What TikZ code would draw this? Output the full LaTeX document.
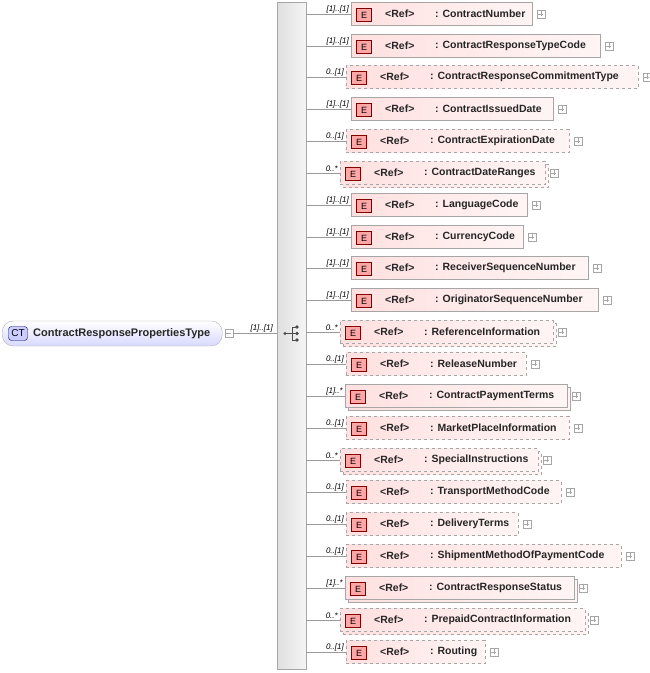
\documentclass[tikz,border=0pt]{standalone}
\usepackage{fontspec}
\setmainfont{Liberation Sans}
\begin{document}
\begin{tikzpicture}[x=1pt,y=-1pt,
  elbox/.style={draw=gray!70,left color=red!12,right color=red!4,minimum height=23pt,inner sep=0pt,anchor=west},
  optbox/.style={elbox,dashed},
  eicon/.style={draw=red!50!black,fill=red!35,minimum width=15pt,minimum height=13pt,inner sep=0pt,font=\fontsize{9}{10}\selectfont},
  txt/.style={font=\fontsize{10.5}{12}\selectfont\bfseries,anchor=west,inner sep=0pt,text=black!85},
  card/.style={font=\fontsize{8}{9}\selectfont\itshape,anchor=south east,inner sep=1pt},
  plusbox/.style={draw=gray!70,fill=white,minimum size=8pt,inner sep=0pt},
  conn/.style={draw=gray!80,line width=0.6pt}]
\useasboundingbox (0,0) rectangle (649,673);
% sequence bar
\node[draw=gray!70,left color=gray!25,right color=gray!8,minimum width=29pt,minimum height=667pt,inner sep=0pt,anchor=north west] (seq) at (277,2) {};
% root
\node[draw=gray!60,rounded corners=11pt,top color=white,bottom color=blue!15,minimum width=220pt,minimum height=25pt,anchor=west] (root) at (2,333.5) {};
\node[draw=blue!50!black,fill=blue!20,rounded corners=3pt,minimum width=19pt,minimum height=14pt,inner sep=0pt,font=\fontsize{10}{11}\selectfont] (ct) at (18,333.5) {CT};
\node[txt,font=\fontsize{11}{12}\selectfont\bfseries] (rootname) at (33,333.5) {ContractResponsePropertiesType};
\node[plusbox] (rminus) at (229,333.5) {};
\draw[gray!70] (rminus.west) ++(1.5,0) -- ++(5,0);
\coordinate (seqin) at (277,333.5);
\draw[conn] (rminus.east) -- (seqin);
\node[card] (rootcard) at (274,333) {[1]..[1]};
% sequence icon
\fill[black!70] (285,333.5) circle (1.6);
\draw[black!70,line width=0.7pt] (285,333.5) -- (292,333.5) (292,327) -- (292,340) (292,327) -- (297,327) (292,333.5) -- (297,333.5) (292,340) -- (297,340);
\fill[black!70] (297,327) circle (1.8) (297,333.5) circle (1.8) (297,340) circle (1.8);
% rows
\foreach \i/\y/\l/\r/\k/\c/\n in {
 1/14/351/532/s/{[1]..[1]}/ContractNumber,
 2/46/351/600/s/{[1]..[1]}/ContractResponseTypeCode,
 3/77/346/638/o/{0..[1]}/ContractResponseCommitmentType,
 4/109/351/553/s/{[1]..[1]}/ContractIssuedDate,
 5/141/346/569/o/{0..[1]}/ContractExpirationDate,
 6/173/340/545/m/{0..*}/ContractDateRanges,
 7/205/351/527/s/{[1]..[1]}/LanguageCode,
 8/237/351/523/s/{[1]..[1]}/CurrencyCode,
 9/268/351/588/s/{[1]..[1]}/ReceiverSequenceNumber,
 10/300/351/598/s/{[1]..[1]}/OriginatorSequenceNumber,
 11/332/340/553/m/{0..*}/ReferenceInformation,
 12/364/346/526/o/{0..[1]}/ReleaseNumber,
 13/396/345/567/n/{[1]..*}/ContractPaymentTerms,
 14/428/346/569/o/{0..[1]}/MarketPlaceInformation,
 15/460/340/538/m/{0..*}/SpecialInstructions,
 16/492/346/561/o/{0..[1]}/TransportMethodCode,
 17/524/346/518/o/{0..[1]}/DeliveryTerms,
 18/556/346/621/o/{0..[1]}/ShipmentMethodOfPaymentCode,
 19/588/345/574/n/{[1]..*}/ContractResponseStatus,
 20/620/340/585/m/{0..*}/PrepaidContractInformation,
 21/652/346/485/o/{0..[1]}/Routing}{
  \pgfmathsetmacro{\w}{\r-\l}
  \if\k m
    \node[optbox,minimum width=\w pt] (b\i) at (\l+3,\y+3) {};
    \node[optbox,minimum width=\w pt] (r\i) at (\l,\y) {};
  \fi
  \if\k n
    \node[elbox,minimum width=\w pt] (b\i) at (\l+3,\y+3) {};
    \node[elbox,minimum width=\w pt] (r\i) at (\l,\y) {};
  \fi
  \if\k s
    \node[elbox,minimum width=\w pt] (r\i) at (\l,\y) {};
  \fi
  \if\k o
    \node[optbox,minimum width=\w pt] (r\i) at (\l,\y) {};
  \fi
  \coordinate (s\i) at (306,\y);
  \draw[conn] (s\i) -- (r\i.west);
  \node[card] (c\i) at (\l-1,\y) {\c};
  \node[eicon] (e\i) at (\l+13,\y+1) {E};
  \node[txt] (ref\i) at (\l+34,\y) {<Ref>};
  \node[txt] (nm\i) at (\l+84,\y) {: \n};
  \node[plusbox] (p\i) at (\r+9,\y) {};
  \draw[gray!70] (p\i.west) ++(1.5,0) -- ++(5,0) (p\i.north) ++(0,1.5) -- ++(0,5);
}
\end{tikzpicture}
\end{document}
